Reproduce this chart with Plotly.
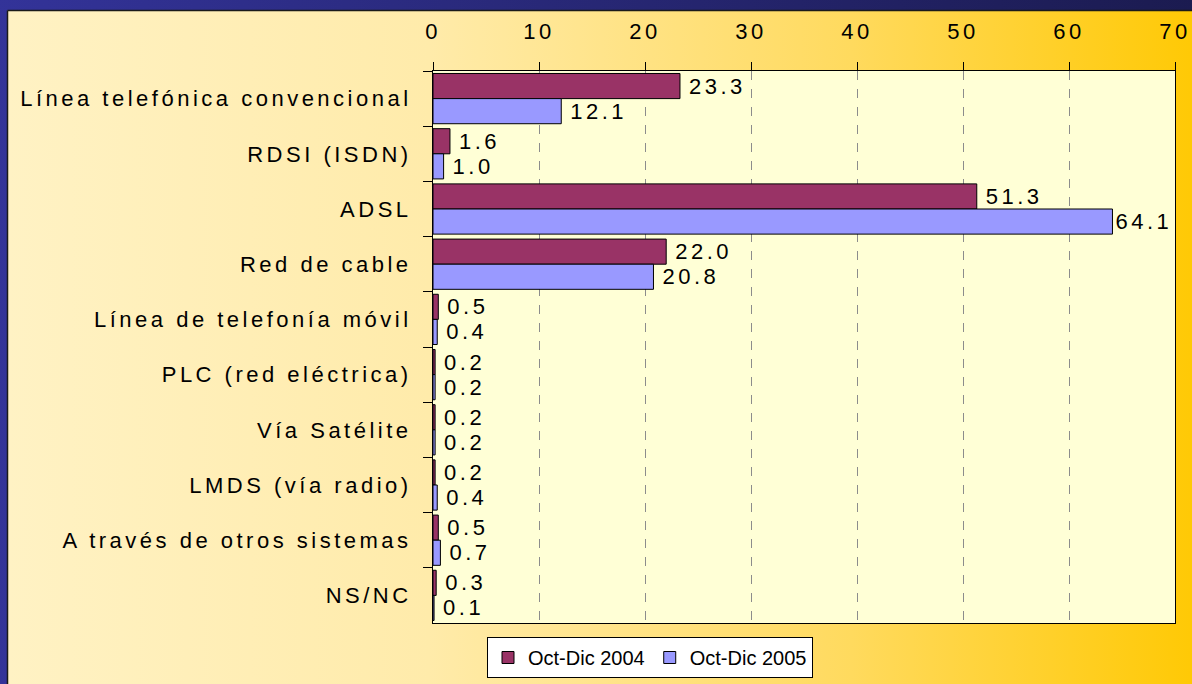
import plotly.graph_objects as go

# ---------------- data ----------------
categories = [
    "Línea telefónica convencional",
    "RDSI (ISDN)",
    "ADSL",
    "Red de cable",
    "Línea de telefonía móvil",
    "PLC (red eléctrica)",
    "Vía Satélite",
    "LMDS (vía radio)",
    "A través de otros sistemas",
    "NS/NC",
]
values_2004 = [23.3, 1.6, 51.3, 22.0, 0.5, 0.2, 0.2, 0.2, 0.5, 0.3]
values_2005 = [12.1, 1.0, 64.1, 20.8, 0.4, 0.2, 0.2, 0.4, 0.7, 0.1]
series_names = ["Oct-Dic 2004", "Oct-Dic 2005"]
x_ticks = [0, 10, 20, 30, 40, 50, 60, 70]

# ---------------- layout constants (pixels) ----------------
W, H = 1192, 684
PLOT_L, PLOT_R, PLOT_T, PLOT_B = 433, 1175, 71, 623
PANEL_L, PANEL_T = 7.5, 10.5
FONT = "Liberation Sans, Arial, sans-serif"

fig = go.Figure()

# background: dark blue frame
fig.add_trace(go.Scatter(
    x=[-5, W + 5, W + 5, -5, -5], y=[-5, -5, H + 5, H + 5, -5],
    mode="lines", fill="toself", line=dict(width=0),
    fillgradient=dict(type="horizontal",
                      colorscale=[[0, "#333399"], [1, "#1B1B50"]]),
    hoverinfo="skip", showlegend=False, xaxis="x", yaxis="y"))

# background: yellow panel
fig.add_trace(go.Scatter(
    x=[PANEL_L, W + 20, W + 20, PANEL_L, PANEL_L],
    y=[PANEL_T, PANEL_T, H + 20, H + 20, PANEL_T],
    mode="lines", fill="toself", line=dict(width=1.5, color="#1a1a1a"),
    fillgradient=dict(type="horizontal",
                      colorscale=[[0, "#FFF2C4"], [0.35, "#FFEBAA"],
                                  [0.7, "#FFDA5E"], [1, "#FFC800"]]),
    hoverinfo="skip", showlegend=False, xaxis="x", yaxis="y"))

# plot area background
fig.add_trace(go.Scatter(
    x=[PLOT_L, PLOT_R, PLOT_R, PLOT_L, PLOT_L],
    y=[PLOT_T, PLOT_T, PLOT_B, PLOT_B, PLOT_T],
    mode="lines", fill="toself", fillcolor="#FFFFD6", line=dict(width=0),
    hoverinfo="skip", showlegend=False, xaxis="x", yaxis="y"))

colors = ["#993366", "#9999FF"]
for name, vals, col in zip(series_names, [values_2004, values_2005], colors):
    fig.add_trace(go.Bar(
        y=categories, x=vals, orientation="h", name=name,
        marker=dict(color=col, line=dict(color="#000000", width=1)),
        text=[f"{v:.1f}" for v in vals], textposition="outside",
        constraintext="none", cliponaxis=False,
        textfont=dict(family=FONT, size=22, color="#000000"),
        hoverinfo="skip", xaxis="x2", yaxis="y2"))

fig.update_layout(
    width=W, height=H,
    margin=dict(l=0, r=0, t=0, b=0, autoexpand=False),
    paper_bgcolor="#333399",
    plot_bgcolor="rgba(0,0,0,0)",
    font=dict(family=FONT, color="#000000"),
    barmode="group", bargap=0.09, bargroupgap=0,
    hovermode=False,
    showlegend=True,
    legend=dict(
        orientation="h", x=650 / W, xanchor="center",
        y=(H - 637) / H, yanchor="top",
        bgcolor="#FFFFFF", bordercolor="#000000", borderwidth=1,
        font=dict(family=FONT, size=20, color="#000000"),
        itemwidth=30, tracegroupgap=0),
    xaxis=dict(domain=[0, 1], range=[0, W], visible=False,
               fixedrange=True, automargin=False),
    yaxis=dict(domain=[0, 1], range=[H, 0], visible=False,
               fixedrange=True, automargin=False),
    xaxis2=dict(
        domain=[PLOT_L / W, PLOT_R / W], anchor="y2", side="top",
        range=[0, 70], tickvals=x_ticks, ticktext=[str(t) for t in x_ticks],
        showgrid=True, gridcolor="#8C8C8C", griddash="dash", gridwidth=1,
        zeroline=False, showline=True, mirror=True,
        linecolor="#000000", linewidth=1,
        ticks="outside", ticklen=8, tickcolor="#000000",
        tickfont=dict(family=FONT, size=22, color="#000000"),
        ticklabelstandoff=14, fixedrange=True, automargin=False,
        ticklabeloverflow="allow"),
    yaxis2=dict(
        domain=[(H - PLOT_B) / H, (H - PLOT_T) / H], anchor="x2",
        type="category", autorange="reversed", tickson="boundaries",
        showgrid=False, zeroline=False, showline=True, mirror=True,
        linecolor="#000000", linewidth=1,
        ticks="outside", ticklen=9, tickcolor="#000000",
        tickfont=dict(family=FONT, size=22, color="#000000"),
        ticklabelstandoff=16, fixedrange=True, automargin=False),
)

post = """
document.body.style.margin = '0';
document.body.style.overflow = 'hidden';
var gd = document.getElementById('{plot_id}');
var st = document.createElement('style');
st.textContent = 'text.bartext{letter-spacing:3.5px} .x2tick text,.y2tick text{letter-spacing:3.5px}';
document.head.appendChild(st);
Plotly.restyle(gd, {'textfont.family': 'Arial, Liberation Sans, sans-serif'}).then(function(){
  var ax = gd._fullLayout.xaxis2;
  var gbox = gd.getBoundingClientRect();
  var right = gbox.left + ax._offset + ax._length - 4;
  var ts = gd.querySelectorAll('text.bartext');
  for (var i = 0; i < ts.length; i++) {
    var r = ts[i].getBoundingClientRect();
    var d = Math.max(0, Math.min(6, right - r.right));
    ts[i].setAttribute('dx', String(d));
  }
});
"""

fig.write_html("out.html", config={"displayModeBar": False}, post_script=post)
